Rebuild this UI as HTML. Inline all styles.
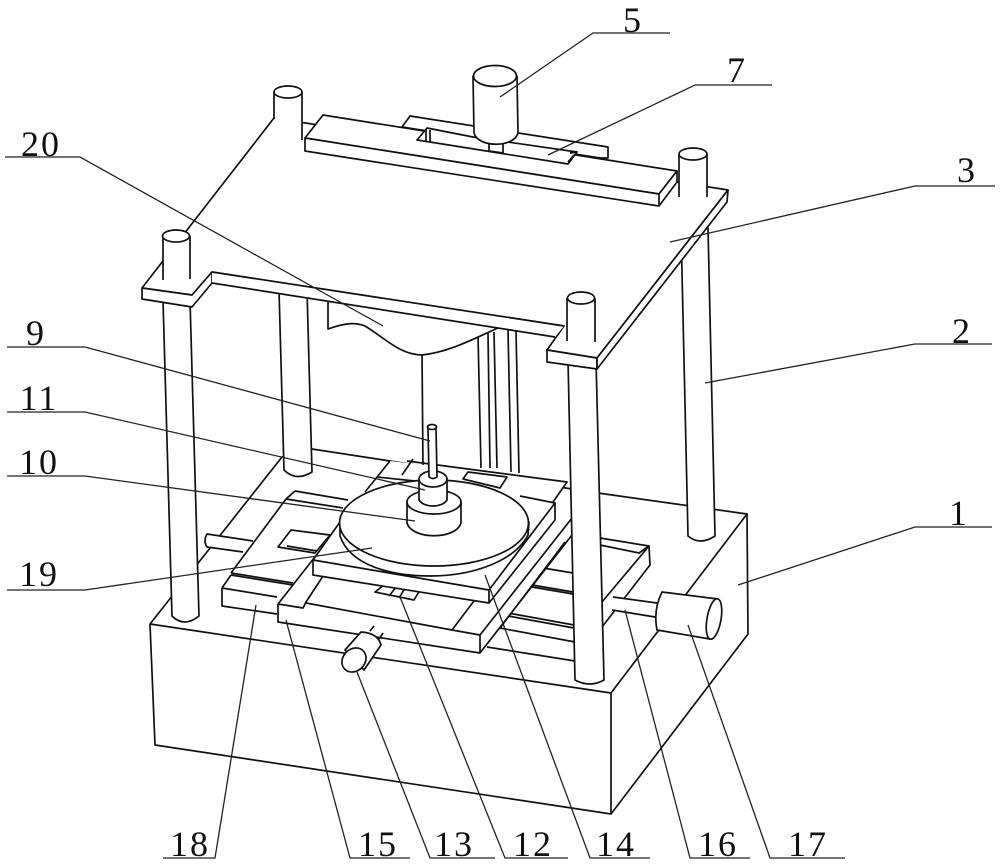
<!DOCTYPE html>
<html><head><meta charset="utf-8"><style>
html,body{margin:0;padding:0;background:#fff}
svg{display:block}
.s path,.s line,.s ellipse,.s polygon,.s rect{stroke:#111;stroke-width:1.7;stroke-linejoin:round}
.s path.x{stroke:none}
.f{fill:#fff}.n{fill:none}
.l line,.l polyline{stroke:#222;stroke-width:1.3;fill:none}
text{font-family:"Liberation Serif",serif;font-size:36px;fill:#111;text-anchor:middle;letter-spacing:2px}
</style></head><body>
<svg class="s" width="1000" height="866" viewBox="0 0 1000 866" xmlns="http://www.w3.org/2000/svg">
<!-- base -->
<path class="f" d="M150 624 L282 457 L312 449 L598 493 L747 514 L748 634 L611 814 L155 745 Z"/>
<path class="n" d="M150 624 L611 693 L747 514 M611 693 L611 814"/>
<!-- back posts lower -->
<path class="f" d="M279 290 L284 470 Q296 482 312 472 L307 290 Z"/>
<path class="f" d="M681 228 L688 536 Q700 546 715 536 L708 228 Z"/>
<!-- columns -->
<path class="n" d="M422 350 L423 470 M478 335 L481 468 M488 333 L490 468 M494 332 L497 468 M508 330 L511 472 M516 331 L519 473"/>
<!-- rear plate -->
<path class="f x" d="M390 461 L567 482 L553 503 L365 492 Z"/>
<path class="n" d="M407 461 L567 482 L553 502 M390 461 L365 492 M413 459 L402 475 M377 477 L415 481"/>
<path class="f" d="M463 479 L468 472 L507 477 L500 488 Z"/>
<!-- lower plate 18 -->
<path class="f x" d="M231 573 L286 499 L600 538 L649 546 L650 565 L602 627 L575 661 L487 647 L277 614 L222 606 L222 588 Z"/>
<path class="n" d="M222 588 L231 575 M231 573 L286 499 L343 508 M295 491 L286 499 M295 491 L348 500 M222 588 L277 597 M222 588 L222 606 L277 614 M600 538 L649 546 L650 565 L602 627 M231 575 L293 585 M231 573 L293 583 M600 545 L639 553 L649 546 M649 546 L602 602 M543 568 L573 573 M532 585 L573 592 M532 587 L573 594 M508 613 L574 625 M508 616 L574 628 M500 628 L575 642 M487 647 L575 661"/>
<!-- hole -->
<path class="f" d="M278 547 L291 530 L330 535 L315 553 Z"/>
<path class="n" d="M287 546 L317 551"/>
<!-- left rod -->
<path class="f x" d="M253 541 L207 534 Q203 541 207 547 L243 552 Z"/>
<path class="n" d="M253 541 L207 534 Q203 541 207 547 L243 552"/>
<!-- slider 15 -->
<path class="f x" d="M278 604 L340 525 L572 518 L572 535 L480 653 L278 622 Z"/>
<path class="n" d="M278 604 L340 525 M278 604 L303 608 L306 602 L325 573 L477 597 L452 630 L306 603 M452 630 L480 635 L572 518 M480 635 L480 653 L572 535 L572 518 M278 604 L278 622 L480 653 M565 542 L500 628"/>
<!-- slot marks 12 -->
<path class="f" d="M375 592 L384 585 L420 590 L414 600 Z"/>
<path class="n" d="M389 596 L397 586 M399 598 L405 588"/>
<!-- plate 14 -->
<path class="f x" d="M313 560 L340 522 L520 496 L555 503 L555 520 L489 603 L313 575 Z"/>
<path class="n" d="M313 560 L340 522 M313 560 L489 590 L555 503 L520 496 M313 560 L313 575 L489 603 L555 520 L555 503 M489 590 L489 603"/>
<!-- disc -->
<path class="f" d="M340 522 L340 536 C350 565 390 576 430 576 C475 576 515 560 528 535 L529 522 Z"/>
<ellipse class="f" cx="434" cy="523" rx="94.5" ry="43"/>
<!-- hub 10 -->
<path class="f" d="M407 502 L407 523 C412 540 456 540 461 523 L461 502 Z"/>
<ellipse class="f" cx="434" cy="502" rx="27" ry="12"/>
<!-- hub 11 -->
<path class="f" d="M419 479 L419 500 C424 508 442 508 447 500 L447 479 Z"/>
<ellipse class="f" cx="433" cy="479" rx="14" ry="8"/>
<!-- rod 9 -->
<path class="f" d="M428 428 L429 477 Q433 480 437 477 L436 428 Z"/>
<ellipse class="f" cx="432" cy="427" rx="4.5" ry="2.5"/>
<!-- motor 13 -->
<path class="n" d="M370 631 L374 626 M379 639 L383 633"/>
<path class="f" d="M345 650 L361 632 Q378 633 381 645 L364 670 Z"/>
<ellipse class="f" cx="354" cy="660" rx="13" ry="11" transform="rotate(-45 354 660)"/>
<!-- shaft + motor 17 -->
<path class="f x" d="M613 597 L657 603 L655 617 L612 610 Z"/>
<path class="n" d="M613 597 L657 603 M612 610 L655 617"/>
<path class="f" d="M662 592 L718 599 L710 639 L657 630 Q653 610 662 592 Z"/>
<ellipse class="f" cx="714" cy="619" rx="7" ry="20.5" transform="rotate(10 714 619)"/>
<!-- front posts lower -->
<path class="f" d="M163 300 L172 616 Q184 628 199 616 L190 300 Z"/>
<path class="f" d="M568 360 L575 680 Q590 688 604 680 L596 360 Z"/>
<!-- top plate -->
<path class="f" d="M274 118 L728 190 L597 358 L547 350 L564 326 L212 272 L192 295 L142 288 Z"/>
<!-- plate thickness -->
<path class="f" d="M142 288 L142 299 L192 307 L212 283 L212 272 L192 295 Z"/>
<path class="f x" d="M212 272 L212 283 L328 302 L328 329 C345 323 355 322 365 326 C385 338 400 355 422 355 C450 352 475 338 498 328 L555 337 L564 326 Z"/>
<path class="n" d="M212 272 L564 326 M212 283 L555 337 M328 302 L328 329 C345 323 355 322 365 326 C385 338 400 355 422 355 C450 352 475 338 498 328"/>
<path class="f" d="M547 350 L597 358 L597 369 L547 362 Z"/>
<path class="f" d="M597 358 L728 190 L727 202 L597 369 Z"/>
<!-- upper posts -->
<path class="f x" d="M163 236 L163 280 L190 279 L190 236 Z"/>
<path class="n" d="M163 236 L163 280 M190 236 L190 279"/>
<ellipse class="f" cx="176" cy="236" rx="13.5" ry="6"/>
<path class="f x" d="M567 298 L567 341 L596 342 L596 298 Z"/>
<path class="n" d="M567 298 L567 341 M595 298 L595 342"/>
<ellipse class="f" cx="581" cy="298" rx="13.5" ry="6"/>
<path class="f x" d="M275 92 L275 122 L302 127 L302 92 Z"/>
<path class="n" d="M274 92 L274 118 M302 92 L302 140"/>
<ellipse class="f" cx="288" cy="92" rx="14" ry="6"/>
<path class="f x" d="M679 154 L679 197 L707 197 L707 154 Z"/>
<path class="n" d="M679 154 L679 197 M707 154 L707 197"/>
<ellipse class="f" cx="693" cy="154" rx="14" ry="6"/>
<!-- rear rail -->
<path class="f" d="M402 127 L410 116 L608 147 L608 158 L600 158 Z"/>
<!-- beam -->
<path class="f" d="M305 138 L323 115 L677 171 L659 194 Z"/>
<path class="f" d="M305 138 L659 194 L677 171 L677 182 L659 206 L305 151 Z"/>
<path class="n" d="M659 194 L659 206"/>
<!-- slot -->
<path class="f" d="M417 140 L427 128 L473 137 L577 152 L568 164 L430 142 Z"/>
<path class="n" d="M426 129 L426 141 M430 130 L430 142 M568 162 L574 155 M577 152 L570 153"/>
<!-- shaft + motor 5 -->
<path class="f" d="M489 140 L489 151 L503 153 L503 140 Z"/>
<path class="f" d="M473 76 L474 133 C478 148 514 148 518 133 L517 76 Z"/>
<ellipse class="f" cx="495" cy="76" rx="21.5" ry="10.5"/>
<!-- leaders -->
<g class="l">
<polyline points="670,33 593,33 500,97"/>
<polyline points="772,85 695,85 548,155"/>
<polyline points="995,186 915,186 670,242"/>
<polyline points="992,344 915,344 705,383"/>
<polyline points="992,527 915,527 738,585"/>
<polyline points="5,157 80,157 383,326"/>
<polyline points="7,347 85,347 430,441"/>
<polyline points="7,412 85,412 425,490"/>
<polyline points="7,476 85,476 415,521"/>
<polyline points="7,590 85,590 372,548"/>
<polyline points="163,858 215,858 256,605"/>
<polyline points="410,858 350,858 286,620"/>
<polyline points="495,858 430,858 357,672"/>
<polyline points="568,858 505,858 400,597"/>
<polyline points="650,858 590,858 485,575"/>
<polyline points="750,858 690,858 625,610"/>
<polyline points="845,858 770,858 688,625"/>
</g>
<text x="633" y="32">5</text>
<text x="737" y="82">7</text>
<text x="967" y="182">3</text>
<text x="962" y="343">2</text>
<text x="959" y="525">1</text>
<text x="41" y="156">20</text>
<text x="36" y="345">9</text>
<text x="39" y="410">11</text>
<text x="39" y="474">10</text>
<text x="39" y="586">19</text>
<text x="190" y="856">18</text>
<text x="378" y="856">15</text>
<text x="454" y="856">13</text>
<text x="533" y="856">12</text>
<text x="616" y="856">14</text>
<text x="718" y="856">16</text>
<text x="808" y="856">17</text>
</svg>
</body></html>
